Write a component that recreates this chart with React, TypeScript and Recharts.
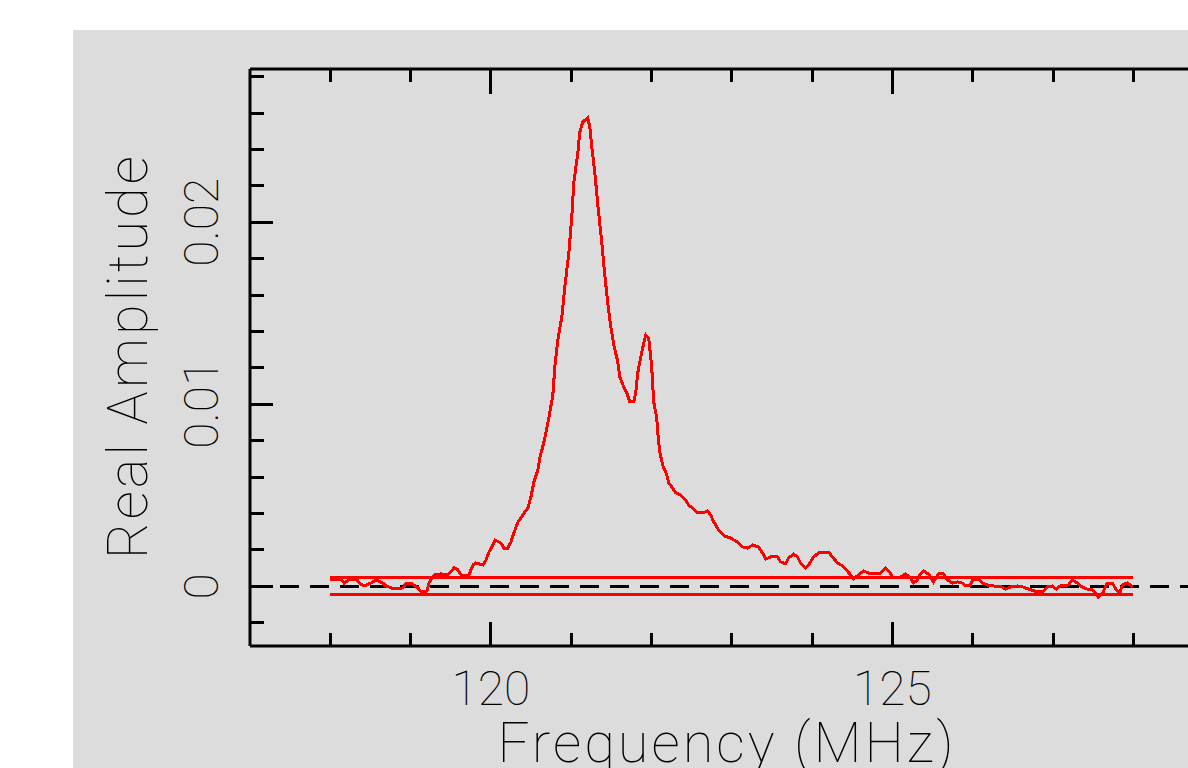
import React from "react";
import { LineChart, Line, XAxis, YAxis, ReferenceLine } from "recharts";

// spectrum
const freqMHz = [
  117.998, 118.134, 118.172, 118.234, 118.333, 118.358, 118.42, 118.507, 118.57, 118.657,
  118.694, 118.794, 118.905, 118.943, 119.005, 119.092, 119.129, 119.204, 119.229, 119.291,
  119.378, 119.465, 119.54, 119.59, 119.627, 119.726, 119.776, 119.813, 119.9, 119.938,
  119.975, 120.025, 120.05, 120.124, 120.162, 120.211, 120.249, 120.286, 120.336, 120.398,
  120.46, 120.498, 120.535, 120.585, 120.609, 120.672, 120.721, 120.771, 120.796, 120.833,
  120.883, 120.92, 120.97, 121.007, 121.032, 121.082, 121.107, 121.144, 121.206, 121.231,
  121.256, 121.294, 121.331, 121.381, 121.418, 121.455, 121.493, 121.53, 121.58, 121.604,
  121.654, 121.692, 121.729, 121.779, 121.804, 121.828, 121.878, 121.928, 121.965, 122.002,
  122.027, 122.065, 122.077, 122.102, 122.139, 122.189, 122.214, 122.264, 122.301, 122.363,
  122.425, 122.463, 122.512, 122.575, 122.637, 122.699, 122.736, 122.774, 122.799, 122.836,
  122.91, 122.985, 123.072, 123.134, 123.197, 123.259, 123.333, 123.383, 123.42, 123.483,
  123.57, 123.607, 123.669, 123.706, 123.769, 123.818, 123.856, 123.918, 123.955, 124.017,
  124.08, 124.142, 124.204, 124.254, 124.316, 124.378, 124.44, 124.478, 124.515, 124.577,
  124.639, 124.701, 124.851, 124.913, 124.963, 125.0, 125.1, 125.162, 125.224, 125.261,
  125.311, 125.348, 125.386, 125.448, 125.51, 125.572, 125.634, 125.684, 125.746, 125.808,
  125.871, 125.908, 125.97, 126.007, 126.07, 126.119, 126.182, 126.256, 126.368, 126.405,
  126.468, 126.555, 126.629, 126.692, 126.803, 126.866, 126.928, 126.99, 127.04, 127.09,
  127.189, 127.239, 127.301, 127.363, 127.425, 127.488, 127.525, 127.562, 127.624, 127.674,
  127.736, 127.774, 127.799, 127.836, 127.861, 127.923, 127.96, 127.985,
];

const realAmp = [
  0.0004, 0.0004, 0.00018, 0.00035, 0.00035, 0.00018, 0.00002, 0.00018, 0.00035, 0.00018,
  0.00002, -0.00015, -0.00009, 0.00018, 0.00018, -0.00009, -0.00031, -0.00026, 0.00018, 0.00062,
  0.00068, 0.00062, 0.00101, 0.0009, 0.00062, 0.00062, 0.00117, 0.00128, 0.00117, 0.00144,
  0.00188, 0.00227, 0.00254, 0.00238, 0.0021, 0.0021, 0.00243, 0.00293, 0.00353, 0.00392,
  0.0043, 0.00491, 0.00573, 0.00639, 0.00705, 0.00815, 0.00925, 0.01051, 0.01205, 0.01353,
  0.0148, 0.01645, 0.01831, 0.02029, 0.02216, 0.02381, 0.02496, 0.02551, 0.02573, 0.02524,
  0.02414, 0.02271, 0.02095, 0.01886, 0.0171, 0.01556, 0.01425, 0.01326, 0.01232, 0.0115,
  0.01095, 0.01062, 0.01013, 0.01013, 0.01067, 0.01172, 0.01287, 0.01381, 0.01364, 0.01205,
  0.01013, 0.00925, 0.00848, 0.00738, 0.00666, 0.00612, 0.00568, 0.0054, 0.00513, 0.00502,
  0.00474, 0.00446, 0.0043, 0.00403, 0.00403, 0.00414, 0.00392, 0.00353, 0.00337, 0.00309,
  0.00276, 0.00265, 0.00243, 0.00216, 0.0021, 0.00227, 0.00216, 0.00183, 0.0015, 0.00161,
  0.00161, 0.00134, 0.00123, 0.00155, 0.00177, 0.00161, 0.00128, 0.00101, 0.00117, 0.00161,
  0.00183, 0.00188, 0.00188, 0.00161, 0.00128, 0.00112, 0.00084, 0.00062, 0.0004, 0.00062,
  0.00084, 0.00073, 0.00073, 0.00101, 0.00079, 0.00051, 0.00051, 0.00068, 0.00046, 0.00018,
  0.00035, 0.00068, 0.00084, 0.00068, 0.00024, 0.00068, 0.00068, 0.00035, 0.00018, 0.00024,
  0.00018, 0.00002, 0.00007, 0.0004, 0.0004, 0.00018, 0.00007, 0.00002, -0.00004, -0.00015,
  -0.00004, 0.00002, -0.00004, -0.00015, -0.00031, -0.00031, -0.00004, 0.00002, -0.00015, 0.00002,
  0.00007, 0.00035, 0.00018, -0.00004, -0.00015, -0.0002, -0.00037, -0.00059, -0.00031, 0.00018,
  0.00018, -0.00009, -0.00026, -0.00031, 0.00007, 0.00018, 0.00007, -0.00004,
];

// noise band limits
const bandFreq = [118, 128];
const bandUpper = 0.00048;
const bandLower = -0.00043;

const xDomain = [117, 130];
const yDomain = [-0.00328, 0.02842];
const xTicks = [118, 119, 120, 121, 122, 123, 124, 125, 126, 127, 128, 129];
const xMajor = [120, 125];
const yTicks = [-0.002, 0, 0.002, 0.004, 0.006, 0.008, 0.01, 0.012, 0.014, 0.016, 0.018, 0.02, 0.022, 0.024, 0.026, 0.028];
const yLabels: Record<string, string> = { "0": "0", "0.01": "0.01", "0.02": "0.02" };

const spectrum = freqMHz.map((f, i) => ({ f, amp: realAmp[i] }));
const upperBand = bandFreq.map((f) => ({ f, amp: bandUpper }));
const lowerBand = bandFreq.map((f) => ({ f, amp: bandLower }));

const FONT = "Roboto, 'Liberation Sans', sans-serif";

const isYMajor = (v: number) => Math.abs(v * 100 - Math.round(v * 100)) < 1e-6;

function BottomTick(props: any) {
  const { x, y, payload } = props;
  const major = xMajor.includes(payload.value);
  return (
    <g>
      <line x1={x} x2={x} y1={y} y2={y - (major ? 24 : 13)} stroke="#000" strokeWidth={3} shapeRendering="crispEdges" />
      {major && (
        <text x={x} y={y + 59} textAnchor="middle" fontFamily={FONT} fontWeight={100} fontSize={48} fill="#000">
          {payload.value}
        </text>
      )}
    </g>
  );
}

function TopTick(props: any) {
  const { x, y, payload } = props;
  const major = xMajor.includes(payload.value);
  return (
    <line x1={x} x2={x} y1={y} y2={y + (major ? 25 : 13)} stroke="#000" strokeWidth={3} shapeRendering="crispEdges" />
  );
}

function LeftTick(props: any) {
  const { x, y, payload } = props;
  const v = payload.value as number;
  const major = isYMajor(v);
  const label = yLabels[String(Math.round(v * 100) / 100)];
  return (
    <g>
      <line x1={x} x2={x + (major ? 23 : 14)} y1={y} y2={y} stroke="#000" strokeWidth={3} shapeRendering="crispEdges" />
      {major && label && (
        <text
          x={x - 32}
          y={y}
          transform={`rotate(-90 ${x - 32} ${y})`}
          textAnchor="middle"
          fontFamily={FONT}
          fontWeight={100}
          fontSize={48}
          fill="#000"
        >
          {label}
        </text>
      )}
    </g>
  );
}

export default function App() {
  return (
    <div
      style={{
        position: "absolute",
        left: 0,
        top: 0,
        width: 1188,
        height: 768,
        overflow: "hidden",
        background: "#fff",
      }}
    >
      <div style={{ position: "absolute", left: 73, top: 30, right: 0, bottom: 0, background: "#dcdcdc" }} />
      <div style={{ position: "absolute", left: 0, top: 0 }}>
        <LineChart width={1294} height={768} margin={{ top: 0, right: 0, bottom: 0, left: 0 }}>
          <XAxis
            dataKey="f"
            type="number"
            domain={xDomain}
            ticks={xTicks}
            interval={0}
            allowDataOverflow
            height={122}
            tickSize={0}
            tickMargin={0}
            tickLine={false}
            axisLine={{ stroke: "#000", strokeWidth: 3 }}
            tick={<BottomTick />}
            label={{
              content: () => (
                <text x={727} y={762} textAnchor="middle" fontFamily={FONT} fontWeight={100} fontSize={56} letterSpacing={3} fill="#000">
                  Frequency (MHz)
                </text>
              ),
            }}
          />
          <XAxis
            xAxisId="top"
            orientation="top"
            dataKey="f"
            type="number"
            domain={xDomain}
            ticks={xTicks}
            interval={0}
            allowDataOverflow
            height={69}
            tickSize={0}
            tickMargin={0}
            tickLine={false}
            axisLine={{ stroke: "#000", strokeWidth: 3 }}
            tick={<TopTick />}
          />
          <YAxis
            type="number"
            domain={yDomain}
            ticks={yTicks}
            interval={0}
            allowDataOverflow
            width={250}
            tickSize={0}
            tickMargin={0}
            tickLine={false}
            axisLine={{ stroke: "#000", strokeWidth: 3 }}
            tick={<LeftTick />}
            label={{
              content: () => (
                <text
                  x={147}
                  y={356}
                  transform="rotate(-90 147 356)"
                  textAnchor="middle"
                  fontFamily={FONT}
                  fontWeight={100}
                  fontSize={56}
                  letterSpacing={3}
                  fill="#000"
                >
                  Real Amplitude
                </text>
              ),
            }}
          />
          <ReferenceLine y={0} stroke="#000" strokeWidth={3} strokeDasharray="19 11" shapeRendering="crispEdges" />
          <Line
            data={upperBand}
            dataKey="amp"
            type="linear"
            stroke="#ff0000"
            strokeWidth={3}
            dot={false}
            isAnimationActive={false}
            shapeRendering="crispEdges"
          />
          <Line
            data={lowerBand}
            dataKey="amp"
            type="linear"
            stroke="#ff0000"
            strokeWidth={3}
            dot={false}
            isAnimationActive={false}
            shapeRendering="crispEdges"
          />
          <Line
            data={spectrum}
            dataKey="amp"
            type="linear"
            stroke="#ff0000"
            strokeWidth={3}
            dot={false}
            isAnimationActive={false}
            shapeRendering="crispEdges"
          />
        </LineChart>
      </div>
    </div>
  );
}
